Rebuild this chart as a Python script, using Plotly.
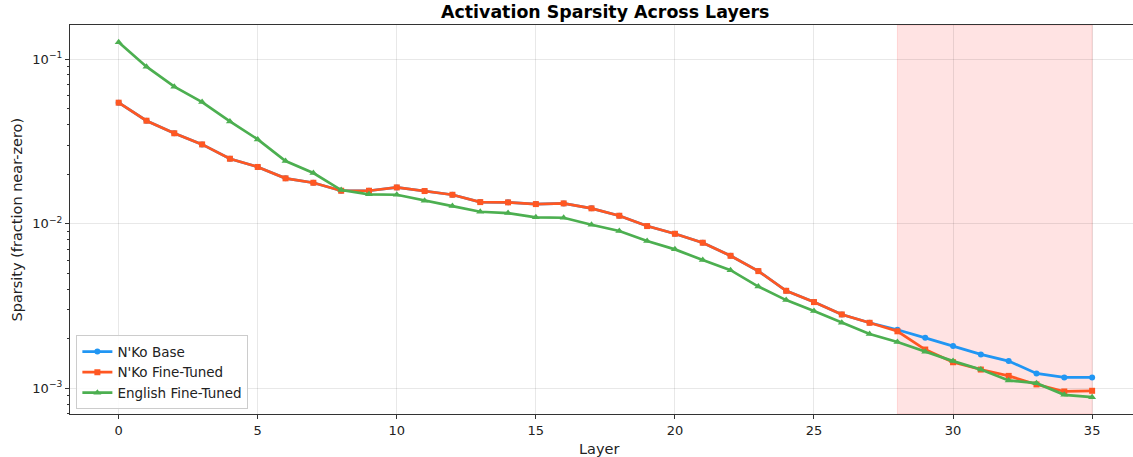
import plotly.graph_objects as go

layers = list(range(36))

nko_fine_tuned = [0.0543, 0.0422, 0.0354, 0.0303, 0.0248, 0.0221, 0.01885, 0.01772, 0.01585, 0.01585,
                  0.0166, 0.01578, 0.01498, 0.01352, 0.01347, 0.01315, 0.01328, 0.01239, 0.01117, 0.00967,
                  0.00868, 0.00766, 0.00638, 0.00515, 0.00391, 0.00334, 0.00281, 0.00250, 0.00222, 0.00172,
                  0.00144, 0.00130, 0.00119, 0.001056, 0.000957, 0.000966]

nko_base = [0.0543, 0.0422, 0.0354, 0.0303, 0.0248, 0.0221, 0.01885, 0.01772, 0.01585, 0.01585,
            0.0166, 0.01578, 0.01498, 0.01352, 0.01347, 0.01315, 0.01328, 0.01239, 0.01117, 0.00967,
            0.00868, 0.00766, 0.00638, 0.00515, 0.00391, 0.00334, 0.00281, 0.00250, 0.002267, 0.002026,
            0.001805, 0.001607, 0.001463, 0.001232, 0.001165, 0.001165]

english_fine_tuned = [0.1263, 0.0898, 0.0679, 0.0548, 0.0418, 0.0325, 0.0240, 0.0203, 0.0160, 0.01507,
                      0.01498, 0.01377, 0.01279, 0.01181, 0.01160, 0.01092, 0.01086, 0.00985, 0.00902, 0.00784,
                      0.00698, 0.00601, 0.00522, 0.00415, 0.003434, 0.002944, 0.00250, 0.002135, 0.00191, 0.001666,
                      0.001463, 0.00130, 0.001117, 0.001075, 0.000913, 0.000884]

highlight_start = 28
highlight_end = 35

x_ticks = [0, 5, 10, 15, 20, 25, 30, 35]
y_ticks = [0.001, 0.01, 0.1]
y_tick_labels = ["10<sup>−3</sup>", "10<sup>−2</sup>", "10<sup>−1</sup>"]
y_minor_ticks = [m * 10.0 ** e for e in (-4, -3, -2, -1) for m in range(2, 10)]

FONT = "DejaVu Sans"

fig = go.Figure()

series = [
    ("N'Ko Base", nko_base, "#2196F3", "circle", 6),
    ("N'Ko Fine-Tuned", nko_fine_tuned, "#FF5722", "square", 6),
    ("English Fine-Tuned", english_fine_tuned, "#4CAF50", "triangle-up", 7),
]
for name, vals, color, sym, sz in series:
    fig.add_trace(go.Scatter(
        x=layers, y=vals, name=name, mode="lines+markers",
        line=dict(color=color, width=2.7),
        marker=dict(symbol=sym, size=sz, color=color),
    ))

fig.add_vrect(x0=highlight_start, x1=highlight_end, fillcolor="rgba(255,0,0,0.11)",
              line=dict(color="rgba(255,0,0,0.12)", width=1), layer="below")

fig.update_layout(
    width=1133, height=457,
    margin=dict(l=70, r=0, t=25, b=43, autoexpand=False),
    plot_bgcolor="white", paper_bgcolor="white",
    font=dict(family=FONT, size=13, color="#222"),
    legend=dict(x=0.006, y=0.012, xanchor="left", yanchor="bottom",
                bgcolor="rgba(255,255,255,0.85)", bordercolor="#cccccc", borderwidth=1,
                font=dict(size=13.5, family=FONT, color="#222"), tracegroupgap=0,
                itemwidth=30),
    showlegend=True,
)

fig.update_xaxes(
    range=[-1.75, 36.47], tickvals=x_ticks, ticks="outside", ticklen=4, tickcolor="#333",
    showline=True, linecolor="#333", linewidth=1.2, mirror=True, automargin=False,
    showgrid=True, gridcolor="rgba(0,0,0,0.09)", gridwidth=1, zeroline=False,
    tickfont=dict(size=13, family=FONT, color="#222"),
)
fig.update_yaxes(
    type="log", range=[-3.156, -0.7934], tickmode="array", tickvals=y_ticks, ticktext=y_tick_labels,
    ticks="outside", ticklen=4, tickcolor="#333", automargin=False,
    minor=dict(tickmode="array", tickvals=y_minor_ticks, ticks="outside", ticklen=2,
               tickcolor="#333", showgrid=False),
    showline=True, linecolor="#333", linewidth=1.2, mirror=False,
    showgrid=True, gridcolor="rgba(0,0,0,0.09)", gridwidth=1, zeroline=False,
    tickfont=dict(size=13, family=FONT, color="#222"),
)

fig.add_annotation(text="<b>Activation Sparsity Across Layers</b>", xref="paper", yref="paper",
                   x=0.5035, y=1, yshift=13, xanchor="center", yanchor="middle", showarrow=False,
                   font=dict(size=17.4, family=FONT, color="black"))
fig.add_annotation(text="Layer", xref="paper", yref="paper", x=0.4975, y=0, yshift=-35,
                   xanchor="center", yanchor="middle", showarrow=False,
                   font=dict(size=14.5, family=FONT, color="#222"))
fig.add_annotation(text="Sparsity (fraction near-zero)", xref="paper", yref="paper", x=0, xshift=-54,
                   y=0.5, xanchor="center", yanchor="middle", textangle=-90, showarrow=False,
                   font=dict(size=14.5, family=FONT, color="#222"))

fig.write_html("out.html", config={"displayModeBar": False},
               post_script="document.body.style.margin='0px';")
